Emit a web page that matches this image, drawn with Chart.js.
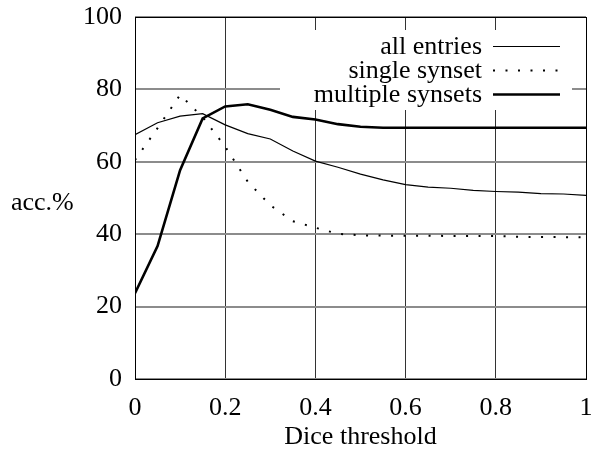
<!DOCTYPE html>
<html>
<head>
<meta charset="utf-8">
<script src="https://cdn.jsdelivr.net/npm/chart.js@4.4.0/dist/chart.umd.min.js"></script>
<style>
  html, body { margin: 0; padding: 0; background: #fff; }
  canvas { display: block; }
</style>
</head>
<body>
<canvas id="chart" width="603" height="457"></canvas>
<script>
// --- data ---
const thresholds = [0, 0.05, 0.1, 0.15, 0.2, 0.25, 0.3, 0.35, 0.4, 0.45, 0.5,
                    0.55, 0.6, 0.65, 0.7, 0.75, 0.8, 0.85, 0.9, 0.95, 1];
const allEntries = [67.5, 70.8, 72.6, 73.3, 70.2, 67.8, 66.3, 63.0, 60.2, 58.5, 56.6,
                    55.0, 53.7, 53.0, 52.7, 52.1, 51.8, 51.6, 51.2, 51.1, 50.7];
const singleSynset = [60.5, 69.3, 78.5, 72.3, 64.2, 54.5, 48.0, 43.6, 41.8, 40.1, 39.7,
                      39.6, 39.6, 39.6, 39.5, 39.5, 39.5, 39.3, 39.2, 39.2, 39.1];
const multipleSynsets = [23.7, 36.7, 57.7, 72.0, 75.3, 75.9, 74.4, 72.4, 71.7, 70.4, 69.7,
                         69.4, 69.4, 69.4, 69.4, 69.4, 69.4, 69.4, 69.4, 69.4, 69.4];
const seriesNames = ['all entries', 'single synset', 'multiple synsets'];
const xTicks = [0, 0.2, 0.4, 0.6, 0.8, 1];
const xTickLabels = ['0', '0.2', '0.4', '0.6', '0.8', '1'];
const yTicks = [0, 20, 40, 60, 80, 100];
const yTickLabels = ['0', '20', '40', '60', '80', '100'];

const FONT = 'Liberation Serif';

function toPoints(values) {
    return values.map((v, i) => ({ x: thresholds[i], y: v }));
}

// gnuplot-like box, key and horizontal y label
const frameAndKey = {
    id: 'frameAndKey',
    beforeDatasetsDraw(chart) {
        const { ctx, chartArea: a } = chart;
        ctx.save();
        ctx.fillStyle = '#fff';
        ctx.fillRect(a.left + 145, a.top + 13, a.right - a.left - 159, 80);
        ctx.restore();
    },
    afterDatasetsDraw(chart) {
        const { ctx, chartArea: a } = chart;
        ctx.save();
        // border
        ctx.strokeStyle = '#000';
        ctx.lineWidth = 1;
        ctx.setLineDash([]);
        ctx.strokeRect(Math.round(a.left) + 0.5, Math.round(a.top) + 0.5,
                       Math.round(a.right - a.left), Math.round(a.bottom - a.top));

        // key
        ctx.font = '26px "' + FONT + '"';
        ctx.fillStyle = '#000';
        ctx.textAlign = 'right';
        ctx.textBaseline = 'alphabetic';
        chart.data.datasets.forEach((ds, i) => {
            const y = a.top + 29.5 + i * 24;
            ctx.fillText(ds.label, a.left + 347, y + 7);
            ctx.beginPath();
            ctx.lineWidth = ds.borderWidth;
            ctx.lineCap = ds.borderCapStyle || 'butt';
            ctx.setLineDash(ds.borderDash || []);
            ctx.moveTo(a.left + 358, y);
            ctx.lineTo(a.left + 425, y);
            ctx.stroke();
        });

        // y label, horizontal like gnuplot
        ctx.setLineDash([]);
        ctx.textAlign = 'left';
        ctx.fillText('acc.%', 11, 210);
        ctx.restore();
    }
};

const ctx = document.getElementById('chart');
new Chart(ctx, {
    type: 'line',
    data: {
        datasets: [
            { label: seriesNames[0], data: toPoints(allEntries), borderColor: '#000', borderWidth: 1.2 },
            { label: seriesNames[1], data: toPoints(singleSynset), borderColor: '#000', borderWidth: 2,
              borderDash: [2, 10.5] },
            { label: seriesNames[2], data: toPoints(multipleSynsets), borderColor: '#000', borderWidth: 2.6 }
        ]
    },
    options: {
        responsive: false,
        animation: false,
        parsing: false,
        elements: { point: { radius: 0 }, line: { tension: 0, fill: false } },
        layout: { padding: { top: 17, right: 17, left: 0, bottom: 0 } },
        plugins: { legend: { display: false }, tooltip: { enabled: false } },
        scales: {
            x: {
                type: 'linear', min: 0, max: 1,
                afterBuildTicks: s => { s.ticks = xTicks.map(v => ({ value: v })); },
                afterFit: s => { s.height = 78; s.paddingLeft = 0; s.paddingRight = 0; },
                ticks: {
                    color: '#000', padding: 14, maxRotation: 0,
                    font: { family: FONT, size: 26 },
                    callback: (v, i) => xTickLabels[i]
                },
                grid: { color: '#333', lineWidth: 1, drawTicks: false },
                border: { display: false },
                title: {
                    display: true, text: 'Dice threshold', color: '#000',
                    font: { family: FONT, size: 26 }, padding: { top: 0, bottom: 4 }
                }
            },
            y: {
                type: 'linear', min: 0, max: 100,
                afterBuildTicks: s => { s.ticks = yTicks.map(v => ({ value: v })); },
                afterFit: s => { s.width = 135; s.paddingTop = 0; s.paddingBottom = 0; },
                ticks: {
                    color: '#000', padding: 13,
                    font: { family: FONT, size: 26 },
                    callback: (v, i) => yTickLabels[i]
                },
                grid: { color: '#8c8c8c', lineWidth: 2, drawTicks: false },
                border: { display: false }
            }
        }
    },
    plugins: [frameAndKey]
});
</script>
</body>
</html>
